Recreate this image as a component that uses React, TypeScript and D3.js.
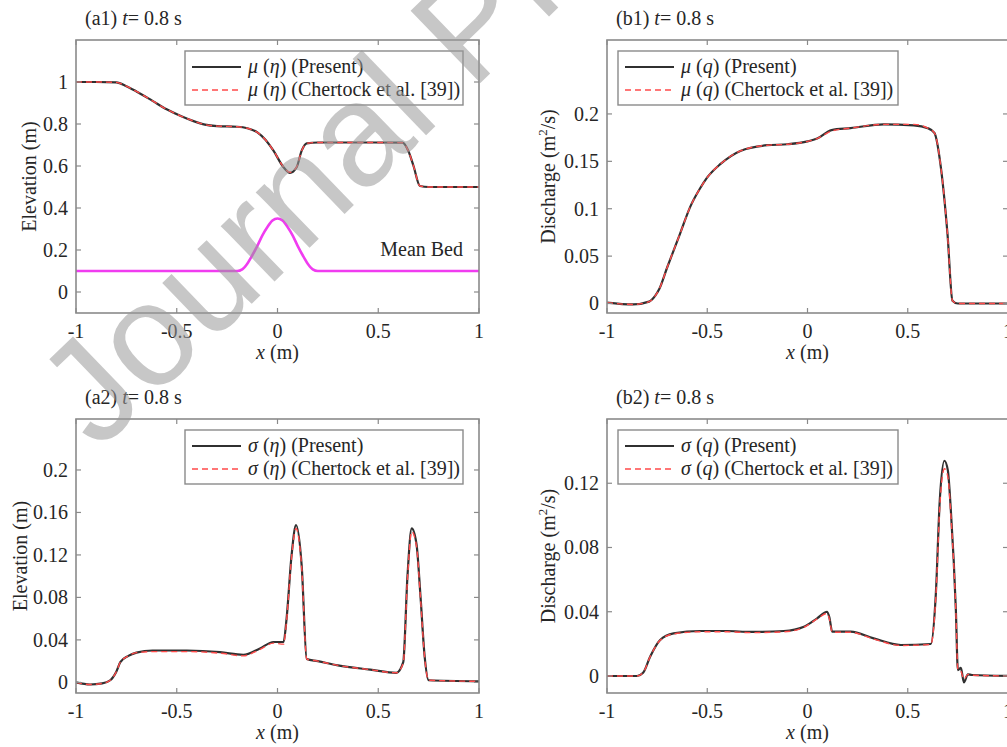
import React from "react";
import * as d3 from "d3";

// x-axis ticks shared by all four panels
const xTicks = [-1, -0.5, 0, 0.5, 1];

// (a1) mean water surface elevation
const a1X = [-1, -0.9, -0.8, -0.75, -0.7, -0.62, -0.55, -0.48, -0.42, -0.36, -0.3, -0.2, -0.15, -0.1, -0.06, -0.02, 0.03, 0.062, 0.095, 0.12, 0.145, 0.2, 0.4, 0.62, 0.65, 0.675, 0.707, 0.75, 1];
const a1Present = [1, 1, 0.998, 0.98, 0.955, 0.91, 0.87, 0.838, 0.815, 0.797, 0.79, 0.787, 0.78, 0.76, 0.725, 0.673, 0.594, 0.567, 0.594, 0.673, 0.708, 0.712, 0.712, 0.711, 0.67, 0.6, 0.505, 0.5, 0.5];
const a1Reference = [1, 1, 0.998, 0.98, 0.955, 0.91, 0.87, 0.838, 0.815, 0.797, 0.79, 0.787, 0.78, 0.76, 0.725, 0.673, 0.596, 0.57, 0.596, 0.673, 0.708, 0.712, 0.712, 0.711, 0.67, 0.6, 0.505, 0.5, 0.5];
const bedX = [-1, -0.2, -0.175, -0.15, -0.125, -0.1, -0.075, -0.05, -0.025, 0, 0.025, 0.05, 0.075, 0.1, 0.125, 0.15, 0.175, 0.2, 1];
const bedValues = [0.1, 0.1, 0.108, 0.135, 0.175, 0.22, 0.27, 0.31, 0.34, 0.35, 0.34, 0.31, 0.27, 0.22, 0.175, 0.135, 0.108, 0.1, 0.1];
const a1Ticks = [0, 0.2, 0.4, 0.6, 0.8, 1];

// (b1) mean discharge
const b1X = [-1, -0.87, -0.79, -0.76, -0.74, -0.7, -0.635, -0.585, -0.54, -0.5, -0.435, -0.335, -0.2, -0.1, 0, 0.048, 0.12, 0.215, 0.38, 0.53, 0.6, 0.633, 0.665, 0.698, 0.723, 0.75, 1];
const b1Present = [0.001, -0.001, 0.002, 0.008, 0.015, 0.038, 0.074, 0.102, 0.12, 0.133, 0.147, 0.161, 0.167, 0.168, 0.171, 0.174, 0.183, 0.185, 0.189, 0.188, 0.185, 0.18, 0.144, 0.074, 0.003, 0, 0];
const b1Reference = [0.001, -0.001, 0.002, 0.008, 0.015, 0.038, 0.074, 0.102, 0.12, 0.133, 0.147, 0.161, 0.167, 0.168, 0.171, 0.174, 0.182, 0.185, 0.189, 0.189, 0.185, 0.18, 0.144, 0.074, 0.003, 0, 0];
const b1Ticks = [0, 0.05, 0.1, 0.15, 0.2];

// (a2) standard deviation of elevation
const a2X = [-1, -0.93, -0.87, -0.83, -0.8, -0.78, -0.74, -0.7, -0.62, -0.45, -0.285, -0.17, -0.087, -0.02, 0.03, 0.045, 0.07, 0.092, 0.12, 0.145, 0.2, 0.3, 0.46, 0.59, 0.624, 0.645, 0.666, 0.69, 0.71, 0.73, 0.75, 1];
const a2Present = [0.0, -0.002, -0.001, 0.002, 0.01, 0.019, 0.025, 0.028, 0.03, 0.03, 0.0285, 0.026, 0.032, 0.038, 0.038, 0.06, 0.12, 0.148, 0.11, 0.022, 0.02, 0.016, 0.012, 0.009, 0.019, 0.1, 0.145, 0.13, 0.08, 0.025, 0.002, 0.001];
const a2Reference = [0.0, -0.002, -0.001, 0.002, 0.01, 0.019, 0.025, 0.028, 0.029, 0.029, 0.0275, 0.025, 0.031, 0.037, 0.036, 0.058, 0.118, 0.145, 0.108, 0.022, 0.02, 0.016, 0.012, 0.009, 0.018, 0.097, 0.142, 0.128, 0.078, 0.024, 0.002, 0.001];
const a2Ticks = [0, 0.04, 0.08, 0.12, 0.16, 0.2];

// (b2) standard deviation of discharge
const b2X = [-1, -0.85, -0.82, -0.785, -0.735, -0.668, -0.535, -0.4, -0.285, -0.118, -0.018, 0.048, 0.098, 0.11, 0.123, 0.215, 0.33, 0.465, 0.615, 0.64, 0.66, 0.683, 0.7, 0.715, 0.74, 0.75, 0.765, 0.78, 0.8, 0.82, 1];
const b2Present = [0, 0, 0.002, 0.012, 0.0224, 0.0265, 0.028, 0.028, 0.0274, 0.028, 0.0307, 0.0359, 0.04, 0.036, 0.0276, 0.0276, 0.0234, 0.0193, 0.0199, 0.051, 0.11, 0.134, 0.128, 0.103, 0.041, 0.0037, 0.005, -0.004, 0.001, 0.0006, 0];
const b2Reference = [0, 0, 0.002, 0.012, 0.0222, 0.0262, 0.0275, 0.0275, 0.027, 0.0275, 0.0303, 0.0355, 0.039, 0.035, 0.0272, 0.0272, 0.023, 0.019, 0.0196, 0.049, 0.106, 0.129, 0.124, 0.1, 0.04, 0.004, 0.003, -0.002, 0.001, 0.0005, 0];
const b2Ticks = [0, 0.04, 0.08, 0.12];

const SERIF = '"Liberation Serif", "Times New Roman", Times, serif';
const TEXT = "#262626";
const AXIS = "#8a8a8a";

type Box = { l: number; t: number; r: number; b: number };

type PanelProps = {
  box: Box;
  yDomain: [number, number];
  yTicks: number[];
  xs: number[];
  present: number[];
  reference: number[];
  tag: string;
  yLabel: React.ReactNode;
  yLabelX: number;
  sym: string;
  variable: string;
  legendSide: "left" | "right";
  bed?: { xs: number[]; ys: number[] };
};

// plain hyphen for negative tick values
const fmt = (v: number) => d3.format("~g")(v).replace("\u2212", "-");

function Panel(p: PanelProps) {
  const { box } = p;
  const x = d3.scaleLinear().domain([-1, 1]).range([box.l, box.r]);
  const y = d3.scaleLinear().domain(p.yDomain).range([box.b, box.t]);
  const line = d3
    .line<[number, number]>()
    .x((d) => x(d[0]))
    .y((d) => y(d[1]))
    .curve(d3.curveMonotoneX);
  const presentPts = p.xs.map((v, i) => [v, p.present[i]] as [number, number]);
  const refPts = p.xs.map((v, i) => [v, p.reference[i]] as [number, number]);
  const clipId = "clip-" + p.tag.replace(/[^a-z0-9]/gi, "");
  const tick = 5;

  const lg =
    p.legendSide === "right"
      ? { x0: box.l + 109, x1: box.r - 16 }
      : { x0: box.l + 11, x1: box.l + 291 };
  const lgY0 = box.t + 11;
  const lgY1 = box.t + 65;
  const row1 = box.t + 27;
  const row2 = box.t + 50;
  const cx = (box.l + box.r) / 2;
  const cy = (box.t + box.b) / 2;

  return (
    <g>
      <defs>
        <clipPath id={clipId}>
          <rect x={box.l} y={box.t} width={box.r - box.l} height={box.b - box.t} />
        </clipPath>
      </defs>
      <rect x={box.l} y={box.t} width={box.r - box.l} height={box.b - box.t} fill="#fff" />

      <g clipPath={`url(#${clipId})`}>
        {p.bed && (
          <path
            d={line(p.bed.xs.map((v, i) => [v, p.bed!.ys[i]] as [number, number])) || ""}
            fill="none"
            stroke="#f03cf0"
            strokeWidth={2.6}
          />
        )}
        <path d={line(presentPts) || ""} fill="none" stroke="#303030" strokeWidth={2.2} />
        <path
          d={line(refPts) || ""}
          fill="none"
          stroke="#ff4a4a"
          strokeWidth={1.4}
          strokeDasharray="6,4"
        />
      </g>

      {/* frame and inward ticks on all sides */}
      <rect
        x={box.l}
        y={box.t}
        width={box.r - box.l}
        height={box.b - box.t}
        fill="none"
        stroke={AXIS}
        strokeWidth={1.6}
      />
      {xTicks.map((v) => (
        <g key={"xt" + v}>
          <line x1={x(v)} x2={x(v)} y1={box.b} y2={box.b - tick} stroke={AXIS} strokeWidth={1.2} />
          <line x1={x(v)} x2={x(v)} y1={box.t} y2={box.t + tick} stroke={AXIS} strokeWidth={1.2} />
          <text
            x={x(v)}
            y={box.b + 25}
            textAnchor="middle"
            fontFamily={SERIF}
            fontSize={20}
            fill={TEXT}
          >
            {fmt(v)}
          </text>
        </g>
      ))}
      {p.yTicks.map((v) => (
        <g key={"yt" + v}>
          <line x1={box.l} x2={box.l + tick} y1={y(v)} y2={y(v)} stroke={AXIS} strokeWidth={1.2} />
          <line x1={box.r} x2={box.r - tick} y1={y(v)} y2={y(v)} stroke={AXIS} strokeWidth={1.2} />
          <text
            x={box.l - 8}
            y={y(v)}
            dy="0.34em"
            textAnchor="end"
            fontFamily={SERIF}
            fontSize={20}
            fill={TEXT}
          >
            {fmt(v)}
          </text>
        </g>
      ))}

      {/* axis titles */}
      <text x={cx} y={box.b + 46} textAnchor="middle" fontFamily={SERIF} fontSize={20} fill={TEXT}>
        <tspan fontStyle="italic">x</tspan> (m)
      </text>
      <text
        transform={`translate(${p.yLabelX},${cy}) rotate(-90)`}
        textAnchor="middle"
        fontFamily={SERIF}
        fontSize={20}
        fill={TEXT}
      >
        {p.yLabel}
      </text>
      <text x={box.l + 9} y={box.t - 15} fontFamily={SERIF} fontSize={20} fill={TEXT}>
        {p.tag} <tspan fontStyle="italic">t</tspan>= 0.8 s
      </text>

      {/* legend */}
      <rect
        x={lg.x0}
        y={lgY0}
        width={lg.x1 - lg.x0}
        height={lgY1 - lgY0}
        fill="#fff"
        stroke={AXIS}
        strokeWidth={1.4}
      />
      <line x1={lg.x0 + 7} x2={lg.x0 + 56} y1={row1} y2={row1} stroke="#303030" strokeWidth={2.2} />
      <line
        x1={lg.x0 + 7}
        x2={lg.x0 + 56}
        y1={row2}
        y2={row2}
        stroke="#ff4a4a"
        strokeWidth={1.6}
        strokeDasharray="6,4"
      />
      <text x={lg.x0 + 63} y={row1 + 6} fontFamily={SERIF} fontSize={20} fill={TEXT}>
        <tspan fontStyle="italic">{p.sym}</tspan> (<tspan fontStyle="italic">{p.variable}</tspan>) (Present)
      </text>
      <text x={lg.x0 + 63} y={row2 + 6} fontFamily={SERIF} fontSize={20} fill={TEXT}>
        <tspan fontStyle="italic">{p.sym}</tspan> (<tspan fontStyle="italic">{p.variable}</tspan>) (Chertock et al. [39])
      </text>

      {p.bed && (
        <text x={box.r - 16} y={y(0.17)} textAnchor="end" fontFamily={SERIF} fontSize={20} fill={TEXT}>
          Mean Bed
        </text>
      )}
    </g>
  );
}

const dischargeLabel = (
  <>
    Discharge (m
    <tspan dy={-8} fontSize={13}>
      2
    </tspan>
    <tspan dy={8}>/s)</tspan>
  </>
);

export default function App() {
  return (
    <svg
      width={1007}
      height={747}
      viewBox="0 0 1007 747"
      style={{ position: "absolute", left: 0, top: 0, background: "#fff" }}
    >
      <rect x={0} y={0} width={1007} height={747} fill="#fff" />
      <Panel
        box={{ l: 76, t: 40, r: 479, b: 313 }}
        yDomain={[-0.1, 1.2]}
        yTicks={a1Ticks}
        xs={a1X}
        present={a1Present}
        reference={a1Reference}
        tag="(a1)"
        yLabel="Elevation (m)"
        yLabelX={36}
        sym="μ"
        variable="η"
        legendSide="right"
        bed={{ xs: bedX, ys: bedValues }}
      />
      <Panel
        box={{ l: 607, t: 40, r: 1008, b: 313 }}
        yDomain={[-0.01, 0.278]}
        yTicks={b1Ticks}
        xs={b1X}
        present={b1Present}
        reference={b1Reference}
        tag="(b1)"
        yLabel={dischargeLabel}
        yLabelX={555}
        sym="μ"
        variable="q"
        legendSide="left"
      />
      <Panel
        box={{ l: 76, t: 419, r: 479, b: 693 }}
        yDomain={[-0.01, 0.248]}
        yTicks={a2Ticks}
        xs={a2X}
        present={a2Present}
        reference={a2Reference}
        tag="(a2)"
        yLabel="Elevation (m)"
        yLabelX={27}
        sym="σ"
        variable="η"
        legendSide="right"
      />
      <Panel
        box={{ l: 607, t: 419, r: 1008, b: 693 }}
        yDomain={[-0.0106, 0.16]}
        yTicks={b2Ticks}
        xs={b2X}
        present={b2Present}
        reference={b2Reference}
        tag="(b2)"
        yLabel={dischargeLabel}
        yLabelX={555}
        sym="σ"
        variable="q"
        legendSide="left"
      />
      {/* publisher watermark */}
      <text
        transform="translate(98,452) rotate(-44)"
        fontFamily='"Liberation Sans", Arial, sans-serif'
        fontSize={146}
        fill="#9a9a9a"
        opacity={0.55}
      >
        Journal Pre-proof
      </text>
    </svg>
  );
}
